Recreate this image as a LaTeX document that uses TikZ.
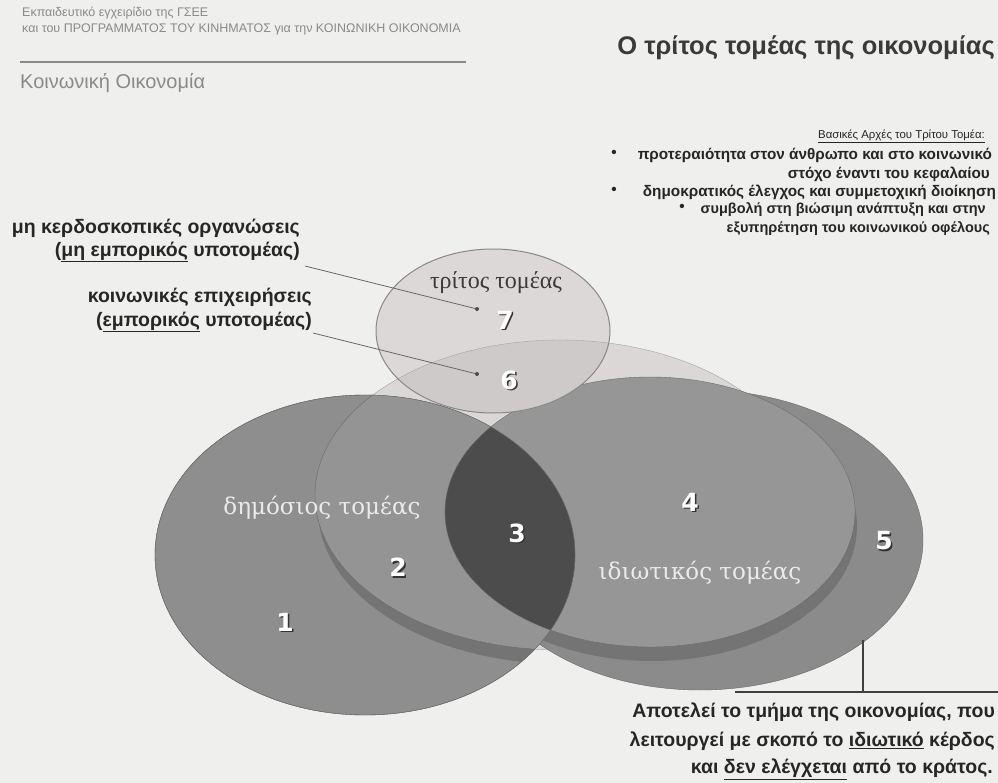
\documentclass[tikz,border=0pt]{standalone}
\usepackage{fontspec}
\setmainfont{Liberation Sans}
\newfontfamily\grserif{Liberation Serif}
\newfontfamily\wideserif{DejaVu Serif}
\newfontfamily\numfont{DejaVu Sans}
\definecolor{bgc}{HTML}{EFEFED}
\definecolor{hdrc}{HTML}{8A8A8A}
\definecolor{titc}{HTML}{3A3A3A}
\definecolor{txtc}{HTML}{262626}
\definecolor{palec}{HTML}{DCD7D7}
\definecolor{palestroke}{HTML}{A8A3A3}
\definecolor{c7}{HTML}{DDD8D8}
\definecolor{c6}{HTML}{CFCACA}
\definecolor{circstroke}{HTML}{8C8787}
\definecolor{r1c}{HTML}{8E8E8E}
\definecolor{r2c}{HTML}{949494}
\definecolor{r3c}{HTML}{4C4C4C}
\definecolor{r4c}{HTML}{969696}
\definecolor{r5c}{HTML}{8B8B8B}
\definecolor{bandc}{HTML}{747474}
\definecolor{edgec}{HTML}{6A6A6A}
\tikzset{
  txt/.style={inner sep=0pt, text=txtc},
  hdr/.style={inner sep=0pt, text=hdrc, font=\fontsize{12.5}{14}\selectfont},
  lab/.style={txt, font=\bfseries\fontsize{19.5}{22}\selectfont},
  rb/.style={txt, font=\bfseries\fontsize{15.3}{17}\selectfont},
  rbs/.style={txt, font=\bfseries\fontsize{14.5}{17}\selectfont},
  bt/.style={txt, font=\bfseries\fontsize{19.5}{22}\selectfont},
  sectorlab/.style={inner sep=0pt, font=\grserif\fontsize{24}{27}\selectfont},
  widelab/.style={inner sep=0pt, font=\wideserif\fontsize{23}{26}\selectfont},
  num/.style={inner sep=0pt, text=white, font=\numfont\bfseries\fontsize{25}{28}\selectfont},
  numsh/.style={inner sep=0pt, text=black!80, font=\numfont\bfseries\fontsize{25}{28}\selectfont},
  dotnode/.style={circle, fill=black!70, inner sep=0pt, minimum size=4pt},
  leader/.style={draw=black!60, line width=0.8pt},
  callout/.style={draw=black!75, line width=1.1pt}
}
\begin{document}
\begin{tikzpicture}[x=1pt,y=-1pt]
\useasboundingbox (0,0) rectangle (998,783);
\fill[bgc] (0,0) rectangle (998,783);

% header
\node[hdr, anchor=west] (h1) at (22,13) {Εκπαιδευτικό εγχειρίδιο της ΓΣΕΕ};
\node[hdr, anchor=west] (h2) at (22,29) {και του ΠΡΟΓΡΑΜΜΑΤΟΣ ΤΟΥ ΚΙΝΗΜΑΤΟΣ για την ΚΟΙΝΩΝΙΚΗ ΟΙΚΟΝΟΜΙΑ};
\coordinate (ruleL) at (20,62);
\coordinate (ruleR) at (466,62);
\draw[hdrc, line width=1.2pt] (ruleL) -- (ruleR);
\node[inner sep=0pt, anchor=west, text=hdrc, font=\fontsize{20}{24}\selectfont] (sub) at (20,83) {Κοινωνική Οικονομία};
\node[inner sep=0pt, anchor=east, text=titc, font=\bfseries\fontsize{25.5}{30}\selectfont] (title) at (995,48) {Ο τρίτος τομέας της οικονομίας};

% principles block
\node[rb, anchor=east, font=\fontsize{11.4}{13}\selectfont] (ph) at (985,136) {\underline{Βασικές Αρχές του Τρίτου Τομέα:}};
\node[rb, anchor=east] (pa1) at (992,155) {προτεραιότητα στον άνθρωπο και στο κοινωνικό};
\node[rb, anchor=east] (pa2) at (990,174) {στόχο έναντι του κεφαλαίου};
\node[rb, anchor=east] (pb) at (996,192) {δημοκρατικός έλεγχος και συμμετοχική διοίκηση};
\node[rbs, anchor=east] (pc1) at (986,210) {συμβολή στη βιώσιμη ανάπτυξη και στην};
\node[rbs, anchor=east] (pc2) at (990,229) {εξυπηρέτηση του κοινωνικού οφέλους};
\node[rb] (ba) at (614,154) {•};
\node[rb] (bb) at (614,191) {•};
\node[rb] (bc) at (682,208) {•};

% third-sector base ellipse
\filldraw[fill=palec, draw=palestroke] (560,495) ellipse [x radius=245, y radius=155];
% private outer (5)
\filldraw[fill=r5c, draw=edgec] (700,540) ellipse [x radius=223, y radius=150];
% private inner (4) with band
\fill[bandc] (652,526) ellipse [x radius=205, y radius=135];
\filldraw[fill=r4c, draw=edgec] (650,512) ellipse [x radius=205, y radius=135];
% public (1)
\filldraw[fill=r1c, draw=edgec] (365,555) ellipse [x radius=210, y radius=160];
\begin{scope}
  \clip (365,555) ellipse [x radius=210, y radius=160];
  \fill[bandc] (563,509) ellipse [x radius=245, y radius=155];
  \filldraw[fill=r2c, draw=edgec] (560,495) ellipse [x radius=245, y radius=155];
  \filldraw[fill=r3c, draw=black!60] (650,512) ellipse [x radius=205, y radius=135];
\end{scope}
\draw[edgec] (365,555) ellipse [x radius=210, y radius=160];

% third-sector circle
\fill[c7] (493,331) ellipse [x radius=117, y radius=82];
\begin{scope}
  \clip (493,331) ellipse [x radius=117, y radius=82];
  \filldraw[fill=c6, draw=palestroke] (560,495) ellipse [x radius=245, y radius=155];
\end{scope}
\draw[circstroke, line width=1pt] (493,331) ellipse [x radius=117, y radius=82];

% sector labels
\node[sectorlab, text=titc] (tlab) at (496,283) {τρίτος τομέας};
\node[widelab, text=white!92!black] (publab) at (322,508) {δημόσιος τομέας};
\node[widelab, text=white!92!black] (privlab) at (700,573) {ιδιωτικός τομέας};

% numbers
\foreach \t/\x/\y in {1/285/622, 2/398/567, 3/517/533, 4/690/502, 5/884/541, 6/509/380, 7/505/320} {
  \node[numsh] at (\x+1.6,\y+1.8) {\t};
  \node[num] (n\t) at (\x,\y) {\t};
}

% left labels and leaders
\node[lab, anchor=east] (l1) at (300,228) {μη κερδοσκοπικές οργανώσεις};
\node[lab, anchor=east] (l2) at (300,252) {(\underline{μη εμπορικός} υποτομέας)};
\node[lab, anchor=east] (l3) at (312,297) {κοινωνικές επιχειρήσεις};
\node[lab, anchor=east] (l4) at (312,322) {(\underline{εμπορικός} υποτομέας)};
\node[dotnode] (d7) at (477,309) {};
\node[dotnode] (d6) at (477,374) {};
\coordinate (s7) at (305,266);
\coordinate (s6) at (313,333);
\draw[leader] (s7) -- (d7);
\draw[leader] (s6) -- (d6);

% callout for private sector
\coordinate (v1) at (863,640);
\coordinate (v2) at (863,692);
\coordinate (hL) at (735,692);
\coordinate (hR) at (998,692);
\draw[callout] (v1) -- (v2);
\draw[callout] (hL) -- (hR);
\node[bt, anchor=east] (b1) at (995,712) {Αποτελεί το τμήμα της οικονομίας, που};
\node[bt, anchor=east] (b2) at (995,741) {λειτουργεί με σκοπό το \underline{ιδιωτικό} κέρδος};
\node[bt, anchor=east] (b3) at (993,769) {και \underline{δεν ελέγχεται} από το κράτος.};
\end{tikzpicture}
\end{document}
